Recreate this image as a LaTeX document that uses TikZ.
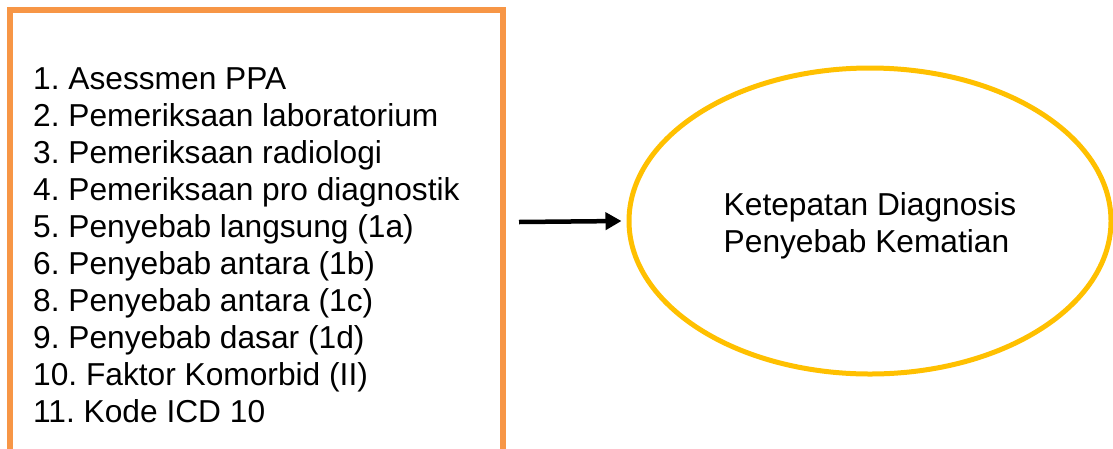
\documentclass[tikz,border=0pt]{standalone}
\usepackage{fontspec}
\setmainfont{Liberation Sans}
\usepackage{tikz}
\usepackage{xcolor}
\usetikzlibrary{
    arrows.meta,
    shapes.geometric,
    calc,
    positioning
}
\frenchspacing
\definecolor{boxorange}{HTML}{F79646}
\definecolor{ringgold}{HTML}{FFC000}
\tikzset{
    listbox/.style={draw=boxorange, line width=5.5pt, rectangle, inner sep=0pt},
    ring/.style={draw=ringgold, line width=5pt, ellipse, inner sep=0pt},
    bigtext/.style={font=\fontsize{31.7}{37}\selectfont, align=left, inner sep=0pt},
    flow/.style={line width=4.5pt, -{Triangle[length=16pt, width=17pt]}}
}

\begin{document}
\begin{tikzpicture}[x=1pt, y=-1pt]
                        \useasboundingbox (0, 0) rectangle (1113, 448);
                        \node[listbox, minimum width=493pt, minimum height=442pt] (factors) at (256.5, 231) {};
                        \node[bigtext, anchor=north west] (items) at (33, 67) {1. Asessmen PPA\\
                            2. Pemeriksaan laboratorium\\
                            3. Pemeriksaan radiologi\\
                            4. Pemeriksaan pro diagnostik\\
                            5. Penyebab langsung (1a)\\
                            6. Penyebab antara (1b)\\
                            8. Penyebab antara (1c)\\
                            9. Penyebab dasar (1d)\\
                            10. Faktor Komorbid (II)\\
                            11. Kode ICD 10};
                        \node[ring, minimum width=482pt, minimum height=306pt] (accuracy) at (870, 221) {};
                        \node[bigtext] (accuracytext) at (870, 226) {Ketepatan Diagnosis\\Penyebab Kematian};
                        \coordinate (start) at (519, 222);
                        \draw[flow] (start) -- ($(accuracy.west) + (-5, 0)$);
                    \end{tikzpicture}
\end{document}
